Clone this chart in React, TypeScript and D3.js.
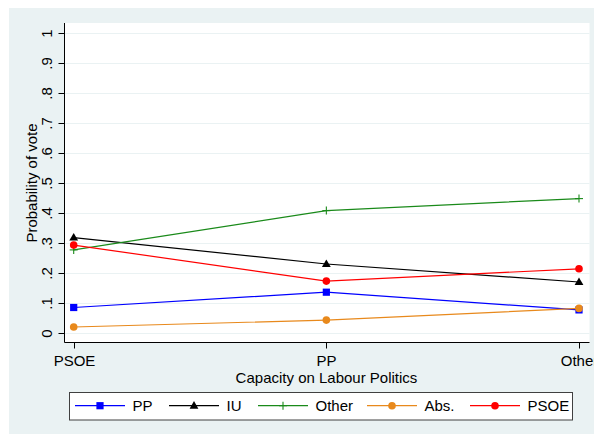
import React from "react";
import * as d3 from "d3";

const categories = ["PSOE", "PP", "Other"];
const yTicks = [0, 0.1, 0.2, 0.3, 0.4, 0.5, 0.6, 0.7, 0.8, 0.9, 1];
const yTickLabels = ["0", ".1", ".2", ".3", ".4", ".5", ".6", ".7", ".8", ".9", "1"];

const ppValues = [0.086, 0.137, 0.078];
const iuValues = [0.319, 0.231, 0.171];
const otherValues = [0.278, 0.409, 0.449];
const absValues = [0.021, 0.044, 0.083];
const psoeValues = [0.294, 0.174, 0.215];

const seriesNames = ["PP", "IU", "Other", "Abs.", "PSOE"];
const seriesColors = ["#0000ff", "#000000", "#1a8a1a", "#e8891c", "#ff0000"];
const seriesSymbols = ["square", "triangle", "plus", "circle", "circle"];
const seriesValues = [ppValues, iuValues, otherValues, absValues, psoeValues];

const W = 594;
const H = 434;
const FONT = "Liberation Sans, Arial, sans-serif";
const FS = 15;

function Marker({ x, y, kind, color }: { x: number; y: number; kind: string; color: string }) {
  if (kind === "square") {
    return <rect x={x - 3.6} y={y - 3.6} width={7.2} height={7.2} fill={color} />;
  }
  if (kind === "triangle") {
    const p = d3.path();
    p.moveTo(x, y - 4.6);
    p.lineTo(x + 4.4, y + 3);
    p.lineTo(x - 4.4, y + 3);
    p.closePath();
    return <path d={p.toString()} fill={color} />;
  }
  if (kind === "plus") {
    return (
      <g stroke={color} strokeWidth={1.1}>
        <line x1={x - 4} x2={x + 4} y1={y} y2={y} />
        <line x1={x} x2={x} y1={y - 4} y2={y + 4} />
      </g>
    );
  }
  return <circle cx={x} cy={y} r={3.8} fill={color} />;
}

export default function App() {
  const plotL = 64.5;
  const plotR = 589.5;
  const plotT = 23;
  const plotB = 342.5;

  const x = d3.scalePoint<string>().domain(categories).range([73.7, 579]);
  const y = d3.scaleLinear().domain([0, 1]).range([333.3, 33.3]);
  const line = d3
    .line<number>()
    .x((_, i) => x(categories[i]) as number)
    .y((d) => y(d));

  // Legend layout
  const legX0 = 69.5;
  const legX1 = 572.5;
  const legY0 = 392.5;
  const legY1 = 420;
  const legCy = 405.7;
  const legLineStarts = [75, 169, 258, 367, 470];

  return (
    <svg
      width={W}
      height={H}
      style={{ position: "absolute", left: 0, top: 0, fontFamily: FONT }}
    >
      <rect x={0} y={0} width={W} height={H} fill="#ffffff" />
      <rect x={9} y={8} width={W - 9} height={H - 8} fill="#eaf2f3" />
      <rect x={plotL} y={plotT} width={plotR - plotL} height={plotB - plotT} fill="#ffffff" />

      {/* gridlines */}
      {yTicks.map((t) => (
        <line
          key={"g" + t}
          x1={plotL}
          x2={plotR}
          y1={Math.round(y(t)) + 0.5}
          y2={Math.round(y(t)) + 0.5}
          stroke="#eaf2f3"
          strokeWidth={1.2}
        />
      ))}

      {/* axes */}
      <line x1={plotL} x2={plotL} y1={plotT} y2={plotB} stroke="#000" strokeWidth={1} />
      <line x1={plotL} x2={plotR} y1={plotB} y2={plotB} stroke="#000" strokeWidth={1} />

      {yTicks.map((t, i) => {
        const yy = Math.round(y(t)) + 0.5;
        return (
          <g key={"yt" + t}>
            <line x1={plotL - 6} x2={plotL} y1={yy} y2={yy} stroke="#000" />
            <text
              transform={`translate(${51.5},${yy}) rotate(-90)`}
              textAnchor="middle"
              fontSize={FS}
              fill="#000"
            >
              {yTickLabels[i]}
            </text>
          </g>
        );
      })}

      {categories.map((c) => {
        const xx = Math.round(x(c) as number) + 0.5;
        return (
          <g key={"xt" + c}>
            <line x1={xx} x2={xx} y1={plotB} y2={plotB + 6} stroke="#000" />
            <text x={xx} y={365.5} textAnchor="middle" fontSize={FS} fill="#000">
              {c}
            </text>
          </g>
        );
      })}

      <text
        transform={`translate(${36.5},${183}) rotate(-90)`}
        textAnchor="middle"
        fontSize={FS}
        fill="#000"
      >
        Probability of vote
      </text>
      <text x={326.5} y={382.5} textAnchor="middle" fontSize={FS} fill="#000">
        Capacity on Labour Politics
      </text>

      {/* series */}
      {seriesValues.map((vals, si) => (
        <g key={"s" + si}>
          <path d={line(vals) as string} fill="none" stroke={seriesColors[si]} strokeWidth={1.2} />
          {vals.map((v, i) => (
            <Marker
              key={i}
              x={x(categories[i]) as number}
              y={y(v)}
              kind={seriesSymbols[si]}
              color={seriesColors[si]}
            />
          ))}
        </g>
      ))}

      {/* legend */}
      <rect
        x={legX0}
        y={legY0}
        width={legX1 - legX0}
        height={legY1 - legY0}
        fill="#ffffff"
        stroke="#404040"
        strokeWidth={1}
      />
      {seriesNames.map((name, si) => {
        const lx = legLineStarts[si];
        return (
          <g key={"l" + si}>
            <line x1={lx} x2={lx + 50} y1={legCy} y2={legCy} stroke={seriesColors[si]} strokeWidth={1.2} />
            <Marker x={lx + 25} y={legCy} kind={seriesSymbols[si]} color={seriesColors[si]} />
            <text x={lx + 57.5} y={legCy + 5.3} fontSize={FS} fill="#000">
              {name}
            </text>
          </g>
        );
      })}
    </svg>
  );
}
